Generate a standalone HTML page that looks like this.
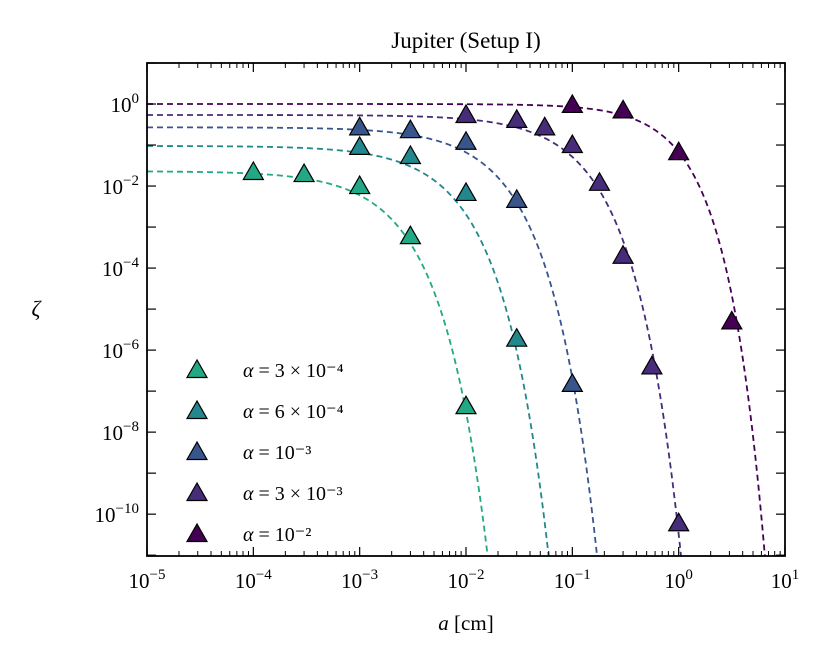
<!DOCTYPE html>
<html><head><meta charset="utf-8"><style>
body{margin:0;background:#fff;}
svg text{font-family:"Liberation Serif","DejaVu Serif",serif;fill:#000;}
</style></head><body>
<svg id="chart" width="829" height="659" xmlns="http://www.w3.org/2000/svg"></svg>
<script>
const seriesLabels=["3 × 10⁻⁴","6 × 10⁻⁴","10⁻³","3 × 10⁻³","10⁻²"];
const seriesColors=["#22a884","#23888e","#39568c","#472c7a","#440154"];
const plateau=[0.023,0.095,0.27,0.54,1.0];
const cutoff=[7.4e-4,2.6e-3,7.1e-3,0.0425,0.437];
const steep=[1,1,1,1,1.2];
const s1x=[1e-4,3e-4,1e-3,3e-3,1e-2];
const s1y=[0.022,0.0196,0.01,6e-4,4.3e-8];
const s2x=[1e-3,3e-3,1e-2,3e-2];
const s2y=[0.09,0.054,6.8e-3,1.9e-6];
const s3x=[1e-3,3e-3,1e-2,3e-2,0.1];
const s3y=[0.27,0.23,0.12,4.6e-3,1.5e-7];
const s4x=[1e-2,3e-2,0.055,0.1,0.18,0.3,0.56,1.0];
const s4y=[0.54,0.41,0.27,0.1,0.012,2e-4,4e-7,6e-11];
const s5x=[0.1,0.3,1.0,3.16];
const s5y=[0.95,0.7,0.067,5e-6];
const pointsX=[s1x,s2x,s3x,s4x,s5x];
const pointsY=[s1y,s2y,s3y,s4y,s5y];
const xTicks=[-5,-4,-3,-2,-1,0,1];
const yTicks=[0,-2,-4,-6,-8,-10];

const L=147,R=785,T=63,B=556;
const xmin=-5,xmax=1,ymin=-11.02,ymax=1;
const X=v=>L+(Math.log10(v)-xmin)/(xmax-xmin)*(R-L);
const Y=v=>T+(ymax-Math.log10(v))/(ymax-ymin)*(B-T);
const NS="http://www.w3.org/2000/svg";
const svg=document.getElementById('chart');
function mk(tag,attrs,parent){const e=document.createElementNS(NS,tag);for(const k in attrs)e.setAttribute(k,attrs[k]);(parent||svg).appendChild(e);return e;}

const defs=mk('defs',{});
const cp=mk('clipPath',{id:'clip'},defs);mk('rect',{x:L,y:T,width:R-L,height:B-T},cp);

const cg=mk('g',{'clip-path':'url(#clip)'});


for(let i=0;i<5;i++){
  let d='';
  for(let k=0;k<=600;k++){
    const lg=xmin+k*(xmax-xmin)/600;const a=Math.pow(10,lg);
    let z=plateau[i]*Math.exp(-Math.pow(a/cutoff[i],steep[i]));
    if(z<1e-14)z=1e-14;
    d+=(k?'L':'M')+X(a).toFixed(2)+','+Y(z).toFixed(2);
  }
  const p=mk('path',{d:d,fill:'none',stroke:seriesColors[i],'stroke-width':1.8,'stroke-dasharray':'6,4'},cg);
  
  
}

function tri(cx,cy,col,parent){
  const s=10;
  return mk('polygon',{points:`${cx},${cy-s} ${cx-s},${cy+s*0.75} ${cx+s},${cy+s*0.75}`,fill:col,stroke:'#000','stroke-width':1.2},parent);
}
const mg=mk('g',{'clip-path':'url(#clip)'});


for(let i=0;i<5;i++){
  for(let j=0;j<pointsX[i].length;j++){
    const t=tri(X(pointsX[i][j]),Y(pointsY[i][j]),seriesColors[i],mg);
    
    
  }
}

const fr=mk('rect',{x:L,y:T,width:R-L,height:B-T,fill:'none',stroke:'#000','stroke-width':1.8});



for(let d=xmin;d<=xmax;d++){
  const x=X(Math.pow(10,d));
  mk('line',{x1:x,x2:x,y1:B,y2:B-9,stroke:'#000','stroke-width':1.2});
  mk('line',{x1:x,x2:x,y1:T,y2:T+9,stroke:'#000','stroke-width':1.2});
  if(d<xmax)for(let m=2;m<10;m++){
    const xm=X(m*Math.pow(10,d));
    mk('line',{x1:xm,x2:xm,y1:B,y2:B-5,stroke:'#000','stroke-width':1});
    mk('line',{x1:xm,x2:xm,y1:T,y2:T+5,stroke:'#000','stroke-width':1});
  }
}
xTicks.forEach(d=>{
  const t=mk('text',{x:X(Math.pow(10,d)),y:B+32,'text-anchor':'middle','font-size':21});
  t.innerHTML=`10<tspan dy="-9" font-size="15">${d<0?'−'+(-d):d}</tspan>`;
  
  
});
for(let d=-11;d<=1;d++){
  const y=Y(Math.pow(10,d));
  if(y<T-0.5||y>B+0.5)continue;
  mk('line',{x1:L,x2:L+9,y1:y,y2:y,stroke:'#000','stroke-width':1.2});
  mk('line',{x1:R,x2:R-9,y1:y,y2:y,stroke:'#000','stroke-width':1.2});
}
yTicks.forEach(d=>{
  const t=mk('text',{x:L-8,y:Y(Math.pow(10,d))+8,'text-anchor':'end','font-size':21});
  t.innerHTML=`10<tspan dy="-9" font-size="15">${d<0?'−'+(-d):d}</tspan>`;
  
  
});

const ti=mk('text',{x:(L+R)/2,y:48,'text-anchor':'middle','font-size':23});ti.textContent='Jupiter (Setup I)';

const xl=mk('text',{x:(L+R)/2,y:630,'text-anchor':'middle','font-size':21});xl.innerHTML='<tspan font-style="italic">a</tspan> [cm]';

const yl=mk('text',{x:36,y:316,'text-anchor':'middle','font-size':22,'font-style':'italic'});yl.textContent='ζ';


const lg=mk('g',{});


const legY=[370,411,452,493,534];
for(let i=0;i<5;i++){
  const t=tri(197,legY[i],seriesColors[i],lg);
  
  
  const tx=mk('text',{x:243,y:legY[i]+7,'font-size':20},lg);
  tx.innerHTML='<tspan font-style="italic">α</tspan> = '+seriesLabels[i];
  
  
}
</script>
</body></html>
